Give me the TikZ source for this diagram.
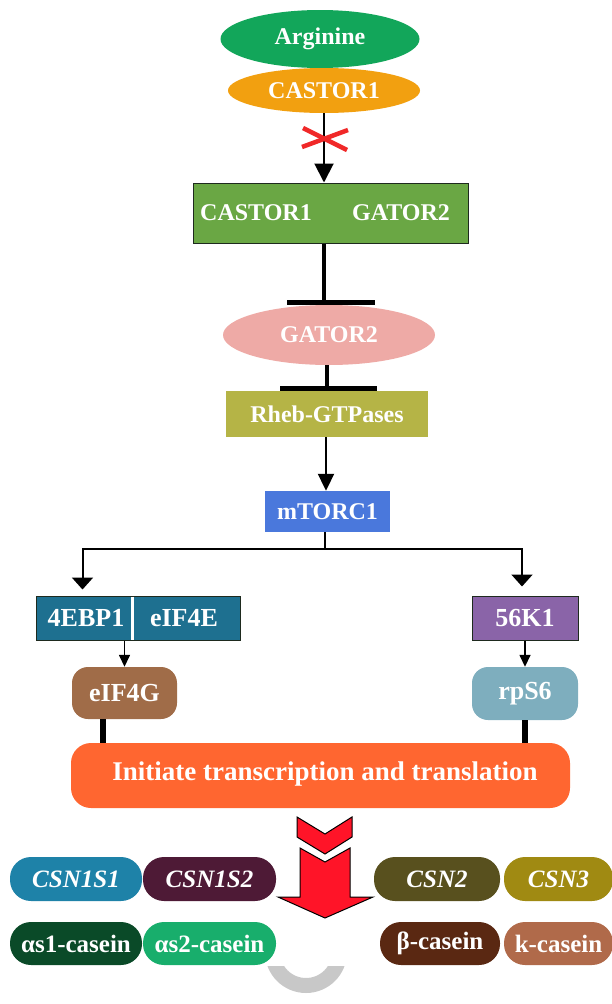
\documentclass[tikz,border=0pt]{standalone}
\usepackage{fontspec}
\setmainfont{Liberation Serif}
\usetikzlibrary{arrows.meta,shapes.geometric,calc}
\definecolor{cArg}{HTML}{12A65A}
\definecolor{cCas}{HTML}{F2A010}
\definecolor{cCG}{HTML}{6AA744}
\definecolor{cGat}{HTML}{EEAAA6}
\definecolor{cRheb}{HTML}{B5B446}
\definecolor{cMt}{HTML}{4A78DC}
\definecolor{cEbp}{HTML}{1E7090}
\definecolor{cS6k}{HTML}{8A64A8}
\definecolor{cEif}{HTML}{A06C48}
\definecolor{cRps}{HTML}{7EAEBE}
\definecolor{cInit}{HTML}{FF6630}
\definecolor{cRed}{HTML}{FF1428}
\definecolor{cXred}{HTML}{F02828}
\definecolor{cSa}{HTML}{1E82A8}
\definecolor{cSb}{HTML}{4E1A36}
\definecolor{cSc}{HTML}{58501E}
\definecolor{cSd}{HTML}{A08A12}
\definecolor{cPa}{HTML}{0A4A28}
\definecolor{cPb}{HTML}{18AE6C}
\definecolor{cPc}{HTML}{5A2812}
\definecolor{cPd}{HTML}{B06A4A}
\definecolor{cGrey}{HTML}{C8C8C8}
\definecolor{cEdge}{HTML}{1E2A1E}
\begin{document}
\begin{tikzpicture}[x=1pt,y=-1pt,
  lbl/.style={text=white,font=\fontsize{24}{28}\selectfont\bfseries,inner sep=0pt},
  lblb/.style={text=white,font=\fontsize{26}{30}\selectfont\bfseries,inner sep=0pt},
  ell/.style={ellipse,inner sep=0pt,lbl},
  box/.style={rectangle,inner sep=0pt,lbl},
  rbox/.style={rectangle,rounded corners=16pt,inner sep=0pt,lblb},
  pill/.style={rectangle,rounded corners=21pt,inner sep=0pt,minimum height=44pt,
     text=white,font=\fontsize{25}{30}\selectfont\bfseries},
  arrbig/.style={line width=2pt,-{Triangle[width=19pt,length=19pt]}},
  arrmid/.style={line width=2pt,-{Triangle[width=16pt,length=17pt]}},
  arrbr/.style={line width=2pt,-{Triangle[width=21pt,length=12pt]}},
  arrsm/.style={line width=1.5pt,-{Triangle[width=11pt,length=12pt]}},
  tline/.style={line width=4pt},
  tbar/.style={line width=5pt},
  thk/.style={line width=5.5pt},
  redx/.style={cXred,line width=4.5pt},
  redarrow/.style={fill=cRed,draw=black,line width=1pt,line join=miter}]
\useasboundingbox (0,0) rectangle (612,1004);

% top
\node[ell,fill=cArg,minimum width=199pt,minimum height=58pt] (arg) at (320,39) {Arginine};
\node[ell,fill=cCas,minimum width=192pt,minimum height=45pt] (cas) at (324,90.5) {CASTOR1};
\node[box,fill=cCG,draw=cEdge,line width=1pt,minimum width=275pt,minimum height=60pt] (cg) at (330.5,213) {};
\node[lbl] (cgA) at (256,213) {CASTOR1};
\node[lbl] (cgB) at (401,213) {GATOR2};
\node[ell,fill=cGat,minimum width=212pt,minimum height=60pt] (gat) at (329,335) {GATOR2};
\node[box,fill=cRheb,minimum width=202pt,minimum height=46pt] (rheb) at (327,414) {Rheb-GTPases};
\node[box,fill=cMt,minimum width=125pt,minimum height=41pt] (mtorc) at (327.5,511.5) {mTORC1};

% middle
\node[box,fill=cEbp,draw=cEdge,line width=1pt,minimum width=204pt,minimum height=44pt] (ebp) at (138,618) {};
\node[lblb] (ebpA) at (86,618) {4EBP1};
\node[lblb] (ebpB) at (184,618) {eIF4E};
\node[box,lblb,fill=cS6k,draw=cEdge,line width=1pt,minimum width=106pt,minimum height=44pt] (s6k) at (525,618) {56K1};
\node[rbox,fill=cEif,minimum width=105pt,minimum height=52pt] (eif) at (124.5,693) {eIF4G};
\node[rbox,fill=cRps,minimum width=106pt,minimum height=53pt] (rps) at (525,693.5) {rpS6};
\node[rectangle,rounded corners=20pt,fill=cInit,minimum width=499pt,minimum height=65pt,inner sep=0pt] (init) at (320.5,775.5) {};
\node[text=white,font=\fontsize{27}{32}\selectfont\bfseries,inner sep=0pt] (initT) at (325,774) {Initiate transcription and translation};

% bottom pills
\node[pill,fill=cSa,minimum width=132pt] (s1) at (76,879) {\itshape CSN1S1};
\node[pill,fill=cSb,minimum width=133pt] (s2) at (209.5,879) {\itshape CSN1S2};
\node[pill,fill=cSc,minimum width=126pt] (s3) at (437,879) {\itshape CSN2};
\node[pill,fill=cSd,minimum width=109pt] (s4) at (558.5,879) {\itshape CSN3};
\node[pill,fill=cPa,minimum width=132pt,minimum height=43pt] (p1) at (76,943.5) {αs1-casein};
\node[pill,fill=cPb,minimum width=133pt,minimum height=43pt] (p2) at (209.5,943.5) {αs2-casein};
\node[pill,fill=cPc,minimum width=120pt,minimum height=43pt] (p3) at (440,943.5) {β-casein};
\node[pill,fill=cPd,minimum width=109pt,minimum height=43pt] (p4) at (558.5,943.5) {k-casein};

% connectors
\draw[arrbig] (cas.south) -- (cas.south |- cg.north);
\coordinate (xm) at (325,139);
\draw[redx] ($(xm)+(-22,-11)$) -- ($(xm)+(22,11)$);
\draw[redx] ($(xm)+(-23,8)$) -- ($(xm)+(23,-9)$);

\draw[tline] (cas.south |- cg.south) -- (cas.south |- gat.north);
\draw[tbar] ($(gat.north)+(-42,-2.5)$) -- ($(gat.north)+(46,-2.5)$);
\draw[tline] (rheb.north |- gat.south) -- (rheb.north);
\draw[tbar] ($(rheb.north)+(-47,-2.5)$) -- ($(rheb.north)+(50,-2.5)$);
\draw[arrmid] ($(rheb.south)+(-1,0)$) -- ($(mtorc.north)+(-1.5,0)$);

\coordinate (mb) at ($(mtorc.south)+(-2.5,0)$);
\draw[arrbr] (mb) -- ++(0,16.5) -| ($(ebp.north west)+(47,-6)$);
\draw[arrbr] (mb) -- ++(0,16.5) -| ($(s6k.north)+(-3,-9)$);

\draw[white,line width=3pt] ($(ebp.north west)+(97,1)$) -- ($(ebp.south west)+(97,-1)$);
\draw[arrsm] (ebp.south -| eif.north) -- (eif.north);
\draw[arrsm] (s6k.south) -- (rps.north);

\coordinate (e1) at ($(eif.south)+(-21.5,0)$);
\draw[thk] (e1) -- (e1 |- init.north);
\draw[thk] (rps.south) -- (rps.south |- init.north);

% red chevron arrow
\draw[redarrow] (297,817) -- (325,834) -- (352,817) -- (352,837) -- (325,854) -- (297,837) -- cycle;
\draw[redarrow] (300,848) -- (325,862) -- (350,848) -- (350,897) -- (373,897) -- (325,918) -- (278,897) -- (300,897) -- cycle;

% grey ring
\begin{scope}
\clip (250,966) rectangle (370,1004);
\draw[cGrey,line width=15pt] (306,952) circle (33.5pt);
\end{scope}
\end{tikzpicture}
\end{document}
